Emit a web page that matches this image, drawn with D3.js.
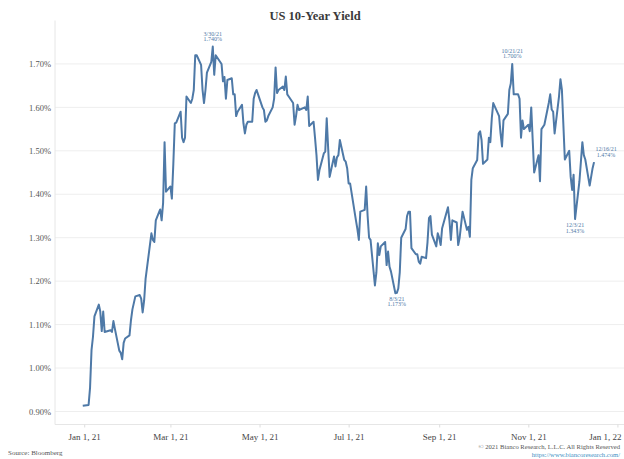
<!DOCTYPE html>
<html><head><meta charset="utf-8">
<script src="https://cdn.jsdelivr.net/npm/d3@7"></script>
<style>html,body{margin:0;padding:0;background:#fff;}svg{display:block;}</style>
</head><body>
<svg id="chart" width="624" height="459"></svg>
<script>
const dates = [
"2020-12-31","2021-01-04","2021-01-05","2021-01-06","2021-01-07","2021-01-08","2021-01-11","2021-01-12","2021-01-13","2021-01-14","2021-01-15",
"2021-01-19","2021-01-20","2021-01-21","2021-01-22","2021-01-25","2021-01-26","2021-01-27","2021-01-28","2021-01-29",
"2021-02-01","2021-02-02","2021-02-03","2021-02-04","2021-02-05","2021-02-08","2021-02-09","2021-02-10","2021-02-11","2021-02-12",
"2021-02-16","2021-02-17","2021-02-18","2021-02-19","2021-02-22","2021-02-23","2021-02-24","2021-02-25","2021-02-26",
"2021-03-01","2021-03-02","2021-03-03","2021-03-04","2021-03-05","2021-03-08","2021-03-09","2021-03-10","2021-03-11","2021-03-12",
"2021-03-15","2021-03-16","2021-03-17","2021-03-18","2021-03-19","2021-03-22","2021-03-23","2021-03-24","2021-03-25","2021-03-26",
"2021-03-29","2021-03-30","2021-03-31","2021-04-01","2021-04-05","2021-04-06","2021-04-07","2021-04-08","2021-04-09",
"2021-04-12","2021-04-13","2021-04-14","2021-04-15","2021-04-16","2021-04-19","2021-04-20","2021-04-21","2021-04-22","2021-04-23",
"2021-04-26","2021-04-27","2021-04-28","2021-04-29","2021-04-30","2021-05-03","2021-05-04","2021-05-05","2021-05-06","2021-05-07",
"2021-05-10","2021-05-11","2021-05-12","2021-05-13","2021-05-14","2021-05-17","2021-05-18","2021-05-19","2021-05-20","2021-05-21",
"2021-05-24","2021-05-25","2021-05-26","2021-05-27","2021-05-28","2021-06-01","2021-06-02","2021-06-03","2021-06-04",
"2021-06-07","2021-06-08","2021-06-09","2021-06-10","2021-06-11","2021-06-14","2021-06-15","2021-06-16","2021-06-17","2021-06-18",
"2021-06-21","2021-06-22","2021-06-23","2021-06-24","2021-06-25","2021-06-28","2021-06-29","2021-06-30","2021-07-01","2021-07-02",
"2021-07-06","2021-07-07","2021-07-08","2021-07-09","2021-07-12","2021-07-13","2021-07-14","2021-07-15","2021-07-16",
"2021-07-19","2021-07-20","2021-07-21","2021-07-22","2021-07-23","2021-07-26","2021-07-27","2021-07-28","2021-07-29","2021-07-30",
"2021-08-02","2021-08-03","2021-08-04","2021-08-05","2021-08-06","2021-08-09","2021-08-10","2021-08-11","2021-08-12","2021-08-13",
"2021-08-16","2021-08-17","2021-08-18","2021-08-19","2021-08-20","2021-08-23","2021-08-24","2021-08-25","2021-08-26","2021-08-27",
"2021-08-30","2021-08-31","2021-09-01","2021-09-02","2021-09-03","2021-09-07","2021-09-08","2021-09-09","2021-09-10",
"2021-09-13","2021-09-14","2021-09-15","2021-09-16","2021-09-17","2021-09-20","2021-09-21","2021-09-22","2021-09-23","2021-09-24",
"2021-09-27","2021-09-28","2021-09-29","2021-09-30","2021-10-01","2021-10-04","2021-10-05","2021-10-06","2021-10-07","2021-10-08",
"2021-10-12","2021-10-13","2021-10-14","2021-10-15","2021-10-18","2021-10-19","2021-10-20","2021-10-21","2021-10-22",
"2021-10-25","2021-10-26","2021-10-27","2021-10-28","2021-10-29","2021-11-01","2021-11-02","2021-11-03","2021-11-04","2021-11-05",
"2021-11-08","2021-11-09","2021-11-10","2021-11-12","2021-11-15","2021-11-16","2021-11-17","2021-11-18","2021-11-19",
"2021-11-22","2021-11-23","2021-11-24","2021-11-26","2021-11-29","2021-11-30","2021-12-01","2021-12-02","2021-12-03",
"2021-12-06","2021-12-07","2021-12-08","2021-12-09","2021-12-10","2021-12-13","2021-12-14","2021-12-15","2021-12-16"
];
const yields = [
0.913,0.915,0.955,1.041,1.072,1.119,1.146,1.130,1.085,1.130,1.083,
1.087,1.083,1.108,1.090,1.040,1.035,1.020,1.058,1.068,
1.075,1.110,1.135,1.150,1.165,1.168,1.160,1.128,1.155,1.205,
1.310,1.295,1.290,1.340,1.365,1.340,1.380,1.520,1.406,
1.418,1.390,1.470,1.563,1.565,1.590,1.530,1.520,1.530,1.625,
1.610,1.620,1.640,1.720,1.720,1.698,1.640,1.610,1.640,1.680,
1.705,1.740,1.675,1.720,1.700,1.660,1.670,1.620,1.663,
1.667,1.630,1.630,1.580,1.590,1.606,1.563,1.540,1.560,1.567,
1.567,1.620,1.633,1.640,1.630,1.600,1.594,1.567,1.570,1.580,
1.600,1.620,1.692,1.633,1.640,1.648,1.640,1.671,1.630,1.625,
1.610,1.560,1.580,1.606,1.594,1.600,1.594,1.625,1.557,
1.567,1.530,1.490,1.433,1.455,1.494,1.498,1.575,1.505,1.440,
1.487,1.464,1.485,1.490,1.525,1.479,1.475,1.460,1.425,1.425,
1.340,1.320,1.295,1.360,1.364,1.418,1.350,1.300,1.295,
1.190,1.220,1.287,1.260,1.280,1.290,1.237,1.268,1.233,1.222,
1.172,1.173,1.183,1.220,1.300,1.320,1.350,1.360,1.360,1.276,
1.262,1.262,1.245,1.240,1.256,1.253,1.290,1.345,1.350,1.307,
1.280,1.310,1.300,1.283,1.322,1.370,1.340,1.295,1.340,
1.335,1.283,1.300,1.330,1.360,1.318,1.325,1.302,1.433,1.460,
1.479,1.540,1.545,1.525,1.470,1.480,1.530,1.520,1.575,1.610,
1.580,1.540,1.510,1.570,1.585,1.640,1.655,1.700,1.630,
1.630,1.620,1.530,1.570,1.550,1.560,1.545,1.600,1.525,1.450,
1.490,1.430,1.550,1.560,1.610,1.630,1.595,1.590,1.540,
1.625,1.665,1.640,1.480,1.500,1.440,1.410,1.445,1.343,
1.430,1.475,1.520,1.490,1.480,1.420,1.440,1.460,1.474
];
const yTickValues = [0.90,1.00,1.10,1.20,1.30,1.40,1.50,1.60,1.70];
const xTickDates = ["2021-01-01","2021-03-01","2021-05-01","2021-07-01","2021-09-01","2021-11-01","2022-01-01"];
const xTickLabels = ["Jan 1, 21","Mar 1, 21","May 1, 21","Jul 1, 21","Sep 1, 21","Nov 1, 21","Jan 1, 22"];
const annDates = ["2021-03-30","2021-10-21","2021-08-03","2021-12-03","2021-12-16"];
const annDateText = ["3/30/21","10/21/21","8/3/21","12/3/21","12/16/21"];
const annValueText = ["1.740%","1.700%","1.173%","1.343%","1.474%"];
const annPlacement = ["above","above","below","below","right"];

const parse = d3.timeParse("%Y-%m-%d");
const data = dates.map((d,i)=>({date: parse(d), value: yields[i]}));

const svg = d3.select("#chart");
const plot = {left: 55, right: 624, top: 20.5, bottom: 424.5};

const x = d3.scaleTime()
  .domain([parse("2020-12-12"), new Date(2022,0,5,12)])
  .range([plot.left, plot.right]);
const y = d3.scaleLinear().domain([0.87, 1.80]).range([plot.bottom, plot.top]);

const serif = "'Liberation Serif', 'DejaVu Serif', serif";

// title
svg.append("text").attr("x", 315).attr("y", 19.5).attr("text-anchor","middle")
  .attr("font-family", serif).attr("font-weight","bold").attr("font-size", 12.5)
  .attr("fill","#3a3a3a").text("US 10-Year Yield");

// gridlines
svg.append("g").selectAll("line").data(yTickValues).join("line")
  .attr("x1", plot.left).attr("x2", plot.right)
  .attr("y1", d=>y(d)).attr("y2", d=>y(d))
  .attr("stroke", "#eeeeee").attr("stroke-width", 1);

// y axis
const yAxis = d3.axisLeft(y).tickValues(yTickValues).tickSize(0).tickPadding(4)
  .tickFormat(d=>d3.format(".2f")(d)+"%");
const gy = svg.append("g").attr("transform", `translate(${plot.left},0)`).call(yAxis);
gy.select(".domain").attr("stroke","#e6e6e6").attr("d", `M0,${plot.top}V${plot.bottom}`);
gy.selectAll("text").attr("font-family", serif).attr("font-size", 8.5).attr("fill","#555");

// x axis
const xAxis = d3.axisBottom(x).tickValues(xTickDates.map(parse)).tickSize(3).tickPadding(6)
  .tickFormat((d,i)=>xTickLabels[i]);
const gx = svg.append("g").attr("transform", `translate(0,${plot.bottom})`).call(xAxis);
gx.select(".domain").attr("stroke","#e6e6e6").attr("d", `M${plot.left},0H${plot.right}`);
gx.selectAll(".tick line").attr("stroke","#dddddd");
gx.selectAll("text").attr("font-family", serif).attr("font-size", 9).attr("fill","#444");
// keep the last label inside the frame
const lastTick = gx.selectAll(".tick").filter((d,i,n)=>i===n.length-1);
const lastX = x(parse(xTickDates[xTickDates.length-1]));
lastTick.select("text").attr("text-anchor","end").attr("x", 621 - lastX);

// line
const line = d3.line().x(d=>x(d.date)).y(d=>y(d.value));
svg.append("path").datum(data).attr("d", line)
  .attr("fill","none").attr("stroke","#4e79a7").attr("stroke-width",2)
  .attr("stroke-linejoin","round");

// annotations
const annColor = "#4e79a7";
annDates.forEach((ds,i)=>{
  const d = data.find(p=>+p.date === +parse(ds));
  const px = x(d.date), py = y(d.value);
  let tx = px, y1, y2;
  if (annPlacement[i]==="above") { y1 = py-11; y2 = py-5.5; }
  else if (annPlacement[i]==="below") { y1 = py+8; y2 = py+13.5; }
  else { tx = px+12; y1 = py-11; y2 = py-5.5; }
  const g = svg.append("g").attr("font-family", serif).attr("font-size", 6)
    .attr("fill", annColor).attr("text-anchor","middle");
  g.append("text").attr("x", tx).attr("y", y1).text(annDateText[i]);
  g.append("text").attr("x", tx).attr("y", y2).text(annValueText[i]);
});

// footer
svg.append("text").attr("x", 8).attr("y", 455).attr("font-family", serif)
  .attr("font-size", 7).attr("fill","#555").text("Source: Bloomberg");
svg.append("text").attr("x", 620).attr("y", 449).attr("text-anchor","end").attr("font-family", serif)
  .attr("font-size", 6.6).attr("fill","#555").text("© 2021 Bianco Research, L.L.C. All Rights Reserved");
svg.append("text").attr("x", 620).attr("y", 457).attr("text-anchor","end").attr("font-family", serif)
  .attr("font-size", 6.6).attr("fill","#3d8fc4").text("https://www.biancoresearch.com/");
</script>
</body></html>
